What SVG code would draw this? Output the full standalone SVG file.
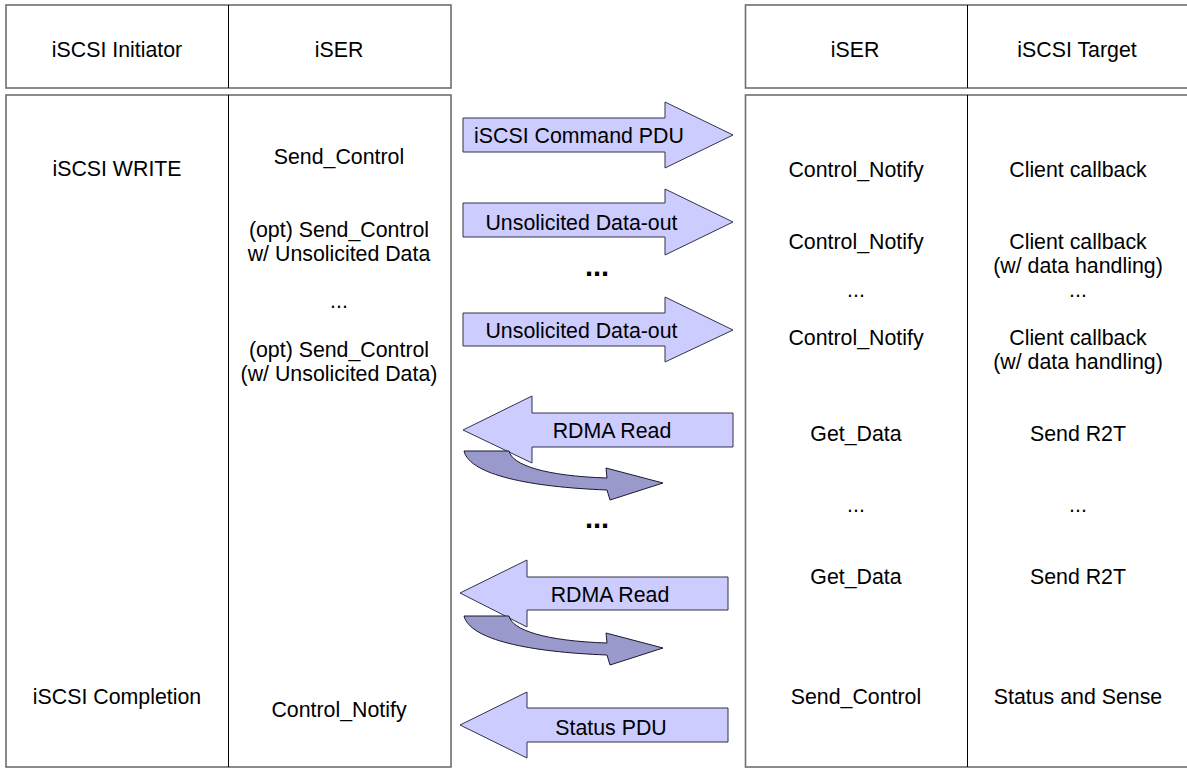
<svg xmlns="http://www.w3.org/2000/svg" width="1187" height="769" viewBox="0 0 1187 769">
<style>
  .box { fill: #ffffff; stroke: #6e6e6e; stroke-width: 1.6; }
  .div { stroke: #000000; stroke-width: 1; }
  text { font-family: "Liberation Sans", Arial, sans-serif; font-size: 21.33px; fill: #000000; text-anchor: middle; }
  .dots { font-weight: bold; font-size: 29px; }
  .arrow { fill: #ccccff; stroke: #33334d; stroke-width: 1; stroke-linejoin: miter; }
  .curve { fill: #9999cc; stroke: #1a1a33; stroke-width: 1; }
</style>
<rect width="1187" height="769" fill="#ffffff"/>

<g id="initiator-header">
  <rect class="box" x="6" y="5" width="445" height="83"/>
  <line class="div" x1="228.5" y1="5" x2="228.5" y2="88"/>
  <text x="117" y="57">iSCSI Initiator</text>
  <text x="339" y="57">iSER</text>
</g>
<g id="target-header">
  <rect class="box" x="745.5" y="5" width="450" height="83"/>
  <line class="div" x1="967.5" y1="5" x2="967.5" y2="88"/>
  <text x="855" y="57">iSER</text>
  <text x="1077" y="57">iSCSI Target</text>
</g>

<g id="initiator-body">
  <rect class="box" x="6" y="95" width="445" height="672"/>
  <line class="div" x1="228.5" y1="95" x2="228.5" y2="767"/>
  <text x="117" y="176">iSCSI WRITE</text>
  <text x="339" y="164">Send_Control</text>
  <text x="339" y="237">(opt) Send_Control</text>
  <text x="339" y="261">w/ Unsolicited Data</text>
  <text x="339" y="308">...</text>
  <text x="339" y="357">(opt) Send_Control</text>
  <text x="339" y="381">(w/ Unsolicited Data)</text>
  <text x="117" y="704">iSCSI Completion</text>
  <text x="339" y="717">Control_Notify</text>
</g>

<g id="target-body">
  <rect class="box" x="745.5" y="95" width="450" height="672"/>
  <line class="div" x1="967.5" y1="95" x2="967.5" y2="767"/>
  <text x="856" y="177">Control_Notify</text>
  <text x="1078" y="177">Client callback</text>
  <text x="856" y="249">Control_Notify</text>
  <text x="1078" y="249">Client callback</text>
  <text x="1078" y="273">(w/ data handling)</text>
  <text x="856" y="297">...</text>
  <text x="1078" y="297">...</text>
  <text x="856" y="345">Control_Notify</text>
  <text x="1078" y="345">Client callback</text>
  <text x="1078" y="369">(w/ data handling)</text>
  <text x="856" y="441">Get_Data</text>
  <text x="1078" y="441">Send R2T</text>
  <text x="856" y="512">...</text>
  <text x="1078" y="512">...</text>
  <text x="856" y="584">Get_Data</text>
  <text x="1078" y="584">Send R2T</text>
  <text x="856" y="704">Send_Control</text>
  <text x="1078" y="704">Status and Sense</text>
</g>

<g id="connectors">
  <g id="cmd-pdu">
    <path class="arrow" d="M463,118 H665 V102 L733,135 L665,168 V152 H463 Z"/>
    <text x="579" y="143">iSCSI Command PDU</text>
  </g>
  <g id="unsol-1">
    <path class="arrow" d="M463,203 H665 V189 L733,222 L665,255 V237 H463 Z"/>
    <text x="581.5" y="230">Unsolicited Data-out</text>
  </g>
  <text class="dots" x="597" y="276">...</text>
  <g id="unsol-2">
    <path class="arrow" d="M463,313 H665 V297 L733,330 L665,362 V346 H463 Z"/>
    <text x="581.5" y="338">Unsolicited Data-out</text>
  </g>
  <g id="rdma-1">
    <path class="arrow" d="M463,430 L532,396 V413 H733 V447 H532 V463 Z"/>
    <text x="612" y="438">RDMA Read</text>
    <path class="curve" d="M464,451 L509,451 C512,465 545,476 607,478 L606,468 L663,483 L610,500 L607,490 C530,487 470,475 464,451 Z"/>
  </g>
  <text class="dots" x="597" y="528">...</text>
  <g id="rdma-2">
    <path class="arrow" d="M460,593 L527,560 V577 H728 V610 H527 V627 Z"/>
    <text x="610" y="602">RDMA Read</text>
    <path class="curve" d="M464,616 L509,616 C512,630 545,641 607,643 L606,633 L663,648 L610,665 L607,655 C530,652 470,640 464,616 Z"/>
  </g>
  <g id="status-pdu">
    <path class="arrow" d="M460,725 L527,692 V708 H728 V742 H527 V758 Z"/>
    <text x="611" y="735">Status PDU</text>
  </g>
</g>
</svg>
